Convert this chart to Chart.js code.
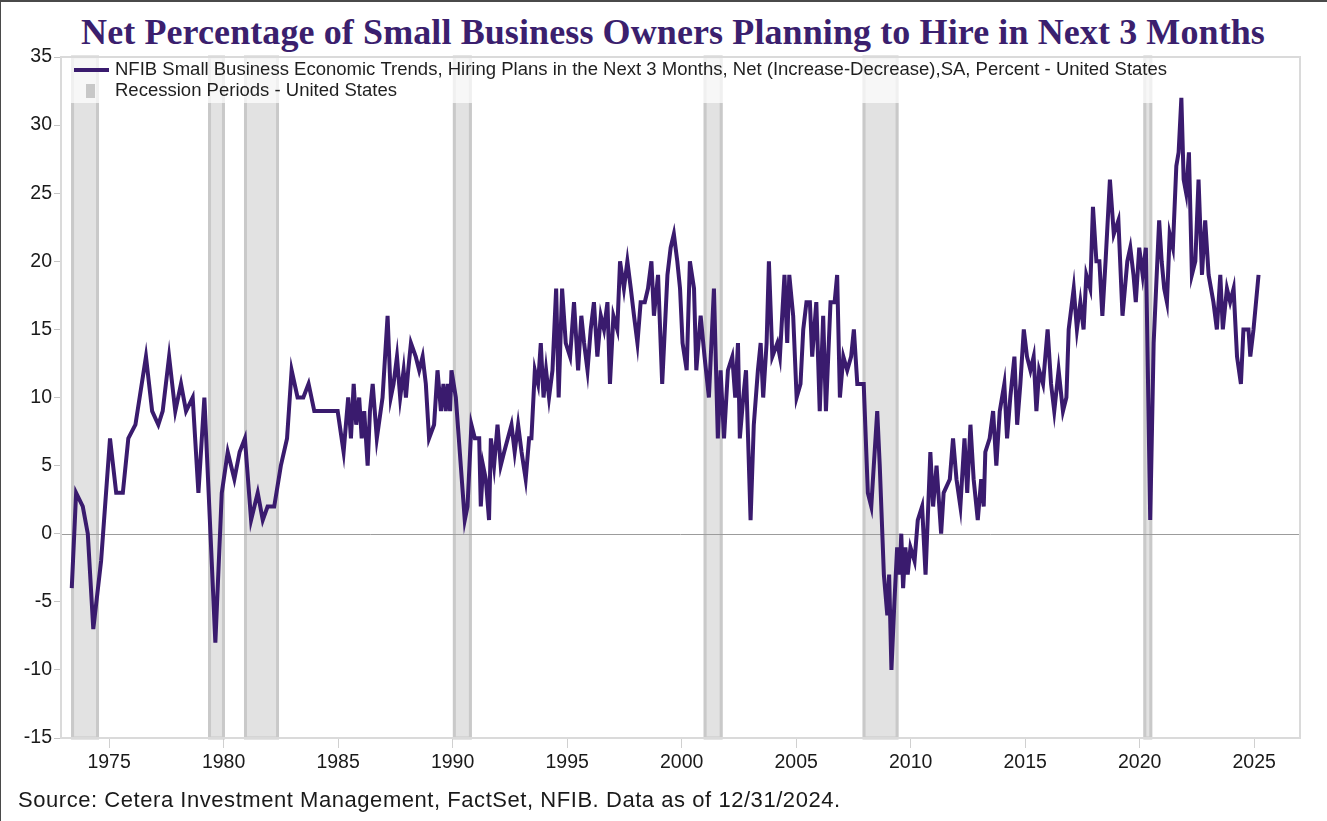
<!DOCTYPE html>
<html>
<head>
<meta charset="utf-8">
<script src="https://cdn.jsdelivr.net/npm/chart.js@4.4.1/dist/chart.umd.min.js"></script>
<style>
  html, body { margin: 0; padding: 0; background: #fff; }
  #wrap {
    position: relative; width: 1327px; height: 821px; box-sizing: border-box;
    border-top: 2px solid #4a4a4a; border-left: 1px solid #4a4a4a; overflow: hidden;
  }
  #title {
    position: absolute; left: 18px; right: 0; top: 9px; text-align: center;
    font-family: "Liberation Serif", "DejaVu Serif", serif; font-weight: bold;
    font-size: 36px; color: #3b1f6e; white-space: nowrap; letter-spacing: 0.1px;
  }
  #source {
    position: absolute; left: 17px; top: 785px;
    font-family: "Liberation Sans", Arial, sans-serif; font-size: 22px; color: #1a1a1a;
    white-space: nowrap; letter-spacing: 0.55px;
  }
  #chartBox { position: absolute; left: -1px; top: -2px; width: 1327px; height: 821px; }
</style>
</head>
<body>
<div id="wrap">
  <div id="title">Net Percentage of Small Business Owners Planning to Hire in Next 3 Months</div>
  <div id="chartBox"><canvas id="hiringChart" width="1327" height="821"></canvas></div>
  <div id="source">Source: Cetera Investment Management, FactSet, NFIB. Data as of 12/31/2024.</div>
</div>
<script>
// Dates as decimal years, values in percent
const years = [
  1973.37, 1973.56, 1973.85, 1974.07, 1974.31, 1974.65, 1975.04, 1975.31, 1975.60, 1975.84,
  1976.15, 1976.61, 1976.88, 1977.15, 1977.34, 1977.62, 1977.89, 1978.14, 1978.36, 1978.65,
  1978.90, 1979.16, 1979.64, 1979.92, 1980.18, 1980.47, 1980.70, 1980.93, 1981.20, 1981.49,
  1981.71, 1981.92, 1982.21, 1982.50, 1982.77, 1982.97, 1983.23, 1983.48, 1983.71, 1983.96,
  1984.98, 1985.24, 1985.44, 1985.56, 1985.68, 1985.79, 1985.92, 1986.03, 1986.14, 1986.29,
  1986.39, 1986.51, 1986.69, 1986.94, 1987.16, 1987.30, 1987.42, 1987.57, 1987.71, 1987.86,
  1987.96, 1988.06, 1988.18, 1988.39, 1988.54, 1988.69, 1988.83, 1988.97, 1989.19, 1989.34,
  1989.49, 1989.60, 1989.70, 1989.80, 1989.89, 1989.95, 1990.14, 1990.53, 1990.65, 1990.82,
  1990.97, 1991.16, 1991.23, 1991.33, 1991.45, 1991.59, 1991.67, 1991.81, 1991.96, 1992.10,
  1992.25, 1992.57, 1992.71, 1992.86, 1993.01, 1993.19, 1993.34, 1993.44, 1993.59, 1993.73,
  1993.85, 1993.97, 1994.08, 1994.21, 1994.36, 1994.52, 1994.63, 1994.78, 1994.94, 1995.13,
  1995.30, 1995.48, 1995.62, 1995.74, 1995.89, 1996.03, 1996.17, 1996.32, 1996.47, 1996.61,
  1996.76, 1996.87, 1997.02, 1997.19, 1997.31, 1997.48, 1997.63, 1997.78, 1997.92, 1998.07,
  1998.21, 1998.39, 1998.53, 1998.68, 1998.79, 1998.97, 1999.15, 1999.38, 1999.52, 1999.66,
  1999.81, 1999.93, 2000.04, 2000.22, 2000.36, 2000.54, 2000.64, 2000.83, 2001.00, 2001.19,
  2001.41, 2001.58, 2001.70, 2001.85, 2002.02, 2002.21, 2002.34, 2002.46, 2002.54, 2002.69,
  2002.81, 2003.01, 2003.15, 2003.33, 2003.45, 2003.56, 2003.71, 2003.81, 2003.96, 2004.18,
  2004.29, 2004.49, 2004.61, 2004.70, 2004.87, 2005.02, 2005.19, 2005.31, 2005.45, 2005.60,
  2005.70, 2005.88, 2006.03, 2006.18, 2006.30, 2006.50, 2006.68, 2006.79, 2006.91, 2007.06,
  2007.23, 2007.40, 2007.52, 2007.67, 2007.95, 2008.13, 2008.28, 2008.39, 2008.54, 2008.65,
  2008.83, 2008.98, 2009.06, 2009.16, 2009.29, 2009.41, 2009.52, 2009.59, 2009.67, 2009.77,
  2009.87, 2009.99, 2010.17, 2010.31, 2010.50, 2010.65, 2010.86, 2010.98, 2011.13, 2011.33,
  2011.44, 2011.71, 2011.85, 2012.00, 2012.17, 2012.35, 2012.47, 2012.61, 2012.75, 2012.93,
  2013.08, 2013.19, 2013.26, 2013.45, 2013.60, 2013.74, 2013.89, 2014.09, 2014.21, 2014.35,
  2014.53, 2014.65, 2014.79, 2014.94, 2015.08, 2015.23, 2015.37, 2015.49, 2015.61, 2015.78,
  2015.98, 2016.13, 2016.27, 2016.46, 2016.65, 2016.80, 2016.90, 2017.12, 2017.26, 2017.41,
  2017.55, 2017.67, 2017.84, 2017.96, 2018.11, 2018.24, 2018.37, 2018.51, 2018.70, 2018.87,
  2019.07, 2019.25, 2019.46, 2019.59, 2019.73, 2019.83, 2019.98, 2020.13, 2020.27, 2020.46,
  2020.61, 2020.85, 2020.96, 2021.07, 2021.19, 2021.31, 2021.45, 2021.60, 2021.70, 2021.82,
  2021.92, 2022.03, 2022.15, 2022.28, 2022.43, 2022.57, 2022.72, 2022.86, 2023.01, 2023.22,
  2023.37, 2023.52, 2023.63, 2023.81, 2023.95, 2024.10, 2024.25, 2024.42, 2024.53, 2024.75,
  2024.83, 2024.97, 2025.19
];
const hiringPlans = [
  -4, 3, 2, 0, -7, -2, 7, 3, 3, 7,
  8, 13, 9, 8, 9, 13, 9, 11, 9, 10,
  3, 10, -8, 3, 6, 4, 6, 7, 1, 3,
  1, 2, 2, 5, 7, 12, 10, 10, 11, 9,
  9, 6, 10, 7, 11, 8, 10, 7, 9, 5,
  9, 11, 7, 10, 16, 10, 11, 13, 10, 12,
  10, 12, 14, 13, 12, 13, 11, 7, 8, 12,
  9, 11, 9, 11, 9, 12, 10, 1, 2, 8,
  7, 7, 2, 5, 4, 1, 7, 5, 8, 5,
  6, 8, 6, 8, 6, 4, 7, 7, 12, 11,
  14, 10, 12, 10, 12, 18, 10, 18, 14, 13,
  17, 12, 16, 14, 12, 15, 17, 13, 16, 15,
  17, 11, 16, 15, 20, 18, 20, 18, 16, 14,
  17, 17, 18, 20, 16, 19, 11, 19, 21, 22,
  20, 18, 14, 12, 20, 18, 12, 16, 13, 10,
  18, 7, 12, 7, 12, 13, 10, 14, 7, 10,
  12, 1, 8, 12, 14, 10, 14, 20, 13, 14,
  13, 19, 14, 19, 16, 10, 11, 15, 17, 17,
  13, 17, 9, 16, 9, 17, 17, 19, 10, 13,
  12, 13, 15, 11, 11, 3, 2, 5, 9, 5,
  -3, -6, -3, -10, -5, -1, -3, 0, -4, -1,
  -3, -1, -2, 1, 2, -3, 6, 2, 5, 0,
  3, 4, 7, 4, 2, 7, 3, 8, 4, 1,
  4, 2, 6, 7, 9, 5, 9, 11, 7, 10,
  13, 8, 11, 15, 13, 12, 13, 9, 12, 11,
  15, 11, 9, 12, 9, 10, 15, 18, 15, 17,
  15, 19, 18, 24, 20, 20, 16, 20, 26, 22,
  23, 16, 20, 21, 19, 17, 21, 19, 21, 1,
  14, 23, 20, 18, 17, 22, 21, 27, 28, 32,
  26, 25, 28, 19, 20, 26, 19, 23, 19, 17,
  15, 19, 15, 18, 17, 18, 13, 11, 15, 15,
  13, 15, 19
];

// Recession periods - United States (as drawn in the reference)
const recessionStart = [1973.34, 1979.32, 1980.89, 1990.01, 2000.96, 2007.90, 2020.16];
const recessionEnd   = [1974.56, 1980.06, 1982.42, 1990.84, 2001.79, 2009.47, 2020.55];

const xTicks = [1975, 1980, 1985, 1990, 1995, 2000, 2005, 2010, 2015, 2020, 2025];
const yTicks = [-15, -10, -5, 0, 5, 10, 15, 20, 25, 30, 35];

const lineLabel = "NFIB Small Business Economic Trends, Hiring Plans in the Next 3 Months, Net (Increase-Decrease),SA, Percent - United States";
const bandLabel = "Recession Periods - United States";
const lineColor = "#3a1b6e";

const points = years.map((x, i) => ({ x: x, y: hiringPlans[i] }));

// bands, zero line, plot frame and legend box go under the line
const backdrop = {
    id: "backdrop",
    beforeDatasetsDraw(chart) {
        const { ctx, chartArea: a, scales: { x, y } } = chart;
        ctx.save();
        for (let i = 0; i < recessionStart.length; i++) {
            const x0 = x.getPixelForValue(recessionStart[i]);
            const x1 = x.getPixelForValue(recessionEnd[i]);
            ctx.fillStyle = "#e2e2e2";
            ctx.fillRect(x0, a.top, x1 - x0, a.bottom - a.top);
            ctx.strokeStyle = "#c9c9c9";
            ctx.lineWidth = 3;
            ctx.strokeRect(x0 + 1.5, a.top, x1 - x0 - 3, a.bottom - a.top);
        }
        // zero line
        const y0 = Math.round(y.getPixelForValue(0)) + 0.5;
        ctx.strokeStyle = "#9c9c9c";
        ctx.lineWidth = 1;
        ctx.beginPath();
        ctx.moveTo(a.left, y0);
        ctx.lineTo(a.right, y0);
        ctx.stroke();
        // plot frame
        ctx.strokeStyle = "#dadada";
        ctx.lineWidth = 2;
        ctx.strokeRect(a.left, a.top, a.right - a.left, a.bottom - a.top);
        // legend background
        ctx.fillStyle = "rgba(255,255,255,0.72)";
        ctx.fillRect(a.left + 1, a.top + 1, 1112, 45);
        ctx.restore();
    },
    afterDatasetsDraw(chart) {
        const { ctx, chartArea: a } = chart;
        ctx.save();
        ctx.strokeStyle = lineColor;
        ctx.lineWidth = 4;
        ctx.beginPath();
        ctx.moveTo(a.left + 13, a.top + 13);
        ctx.lineTo(a.left + 48, a.top + 13);
        ctx.stroke();
        ctx.fillStyle = "#c8c8c8";
        ctx.fillRect(a.left + 25, a.top + 27, 9, 14);
        ctx.fillStyle = "#1f1f1f";
        // size the legend font so the long entry spans the same width as in the reference
        let size = 17;
        ctx.font = size + "px 'Liberation Sans', Arial, sans-serif";
        size = size * 1053 / ctx.measureText(lineLabel).width;
        ctx.font = size.toFixed(2) + "px 'Liberation Sans', Arial, sans-serif";
        ctx.textBaseline = "middle";
        ctx.fillText(lineLabel, a.left + 54, a.top + 13);
        ctx.fillText(bandLabel, a.left + 54, a.top + 34);
        ctx.restore();
    }
};

const ctx = document.getElementById("hiringChart").getContext("2d");

const chart = new Chart(ctx, {
    type: "line",
    data: {
        datasets: [{
            label: lineLabel,
            data: points,
            borderColor: lineColor,
            borderWidth: 4,
            pointRadius: 0,
            tension: 0,
            fill: false
        }]
    },
    options: {
        responsive: false,
        animation: false,
        events: [],
        layout: { padding: { left: 0, right: 27, top: 57, bottom: 40 } },
        plugins: {
            legend: { display: false },
            tooltip: { enabled: false }
        },
        scales: {
            x: {
                type: "linear",
                min: 1972.9,
                max: 2027.0,
                afterBuildTicks: axis => { axis.ticks = xTicks.map(v => ({ value: v })); },
                afterFit: axis => { axis.height = 43; },
                border: { display: false },
                grid: { drawOnChartArea: false, color: "#d0d0d0", tickLength: 10 },
                ticks: {
                    padding: 3,
                    color: "#1a1a1a",
                    font: { family: "'Liberation Sans', Arial, sans-serif", size: 19.5 },
                    callback: v => String(v)
                }
            },
            y: {
                min: -15,
                max: 35,
                afterBuildTicks: axis => { axis.ticks = yTicks.map(v => ({ value: v })); },
                afterFit: axis => { axis.width = 61; },
                border: { display: false },
                grid: { drawOnChartArea: false, color: "#c4c4c4", tickLength: 7 },
                ticks: {
                    padding: 2,
                    color: "#1a1a1a",
                    font: { family: "'Liberation Sans', Arial, sans-serif", size: 19.5 }
                }
            }
        }
    },
    plugins: [backdrop]
});
</script>
</body>
</html>
